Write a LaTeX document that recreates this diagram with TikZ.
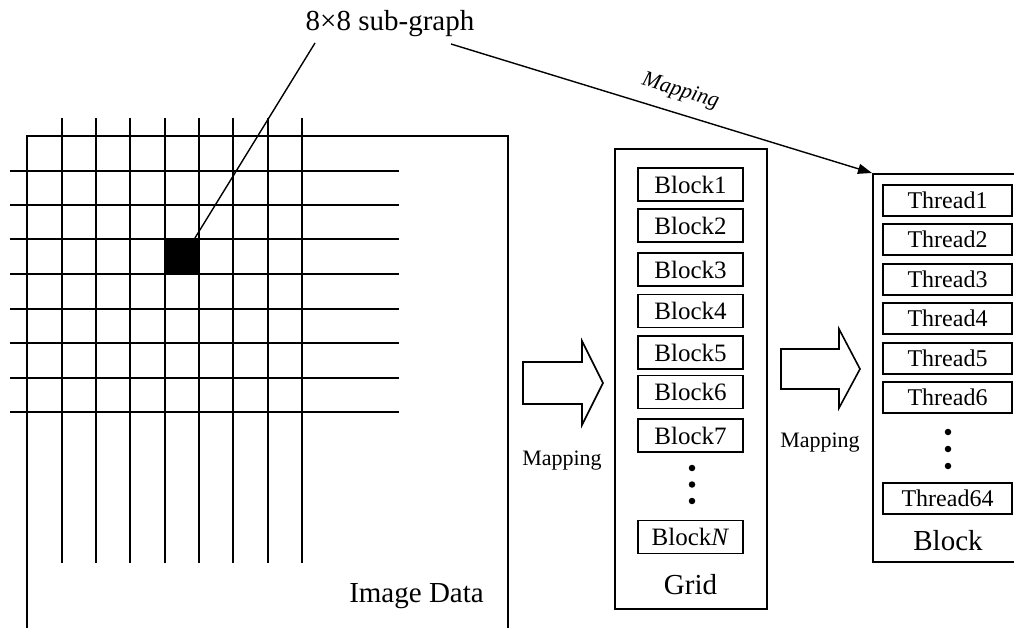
\documentclass[tikz,border=0pt]{standalone}
\usepackage{fontspec}
\setmainfont{Liberation Serif}
\usetikzlibrary{arrows.meta}
\begin{document}
\begin{tikzpicture}[x=1pt,y=-1pt, line width=1.8pt,
  cell/.style={draw, line width=1.6pt, minimum width=105pt, minimum height=33pt, inner sep=0pt,
    font=\fontsize{25}{28}\selectfont},
  tcell/.style={draw, line width=1.6pt, minimum width=129pt, minimum height=31pt, inner sep=0pt,
    font=\fontsize{24}{27}\selectfont},
  biglabel/.style={font=\fontsize{29}{32}\selectfont, anchor=base, inner sep=0pt},
  maplabel/.style={font=\fontsize{22}{25}\selectfont, anchor=base, inner sep=0pt},
  fatarrow/.style={draw, fill=white, line width=1.6pt, line join=miter},
  dot/.style={circle, fill, inner sep=0pt, minimum size=6.5pt}
]
\useasboundingbox (0,0) rectangle (1014,628);
\clip (0,0) rectangle (1014,628);

% image frame (open at the bottom)
\draw (27,640) -- (27,136) -- (508,136) -- (508,640);

% pixel grid
\foreach \x in {62,96,130,165,199,233,268,302}
  \draw (\x,118) -- (\x,563);
\foreach \y in {171,205,239,274,309,343,378,412}
  \draw (10,\y) -- (399,\y);

% highlighted 8x8 sub-graph
\node[fill, minimum width=34pt, minimum height=35pt, inner sep=0pt] (sub) at (182,256.5) {};
\node[biglabel] (sublbl) at (390,31) {8×8 sub-graph};
\coordinate (lead) at (315,43);
\draw[line width=1.4pt] (lead) -- ([xshift=-5pt]sub.north east);

\node[biglabel] (imglbl) at (416.5,602) {Image Data};

% grid of blocks
\node[draw, line width=1.6pt, minimum width=152pt, minimum height=460pt, inner sep=0pt] (grid) at (691,379) {};
\node[cell] (b1) at (690.5,184.5) {Block1};
\node[cell] (b2) at (690.5,225.5) {Block2};
\node[cell] (b3) at (690.5,269.5) {Block3};
\node[cell] (b4) at (690.5,311) {Block4};
\node[cell] (b5) at (690.5,352.5) {Block5};
\node[cell] (b6) at (690.5,392) {Block6};
\node[cell] (b7) at (690.5,435.5) {Block7};
\node[dot] (gd1) at (692,468) {};
\node[dot] (gd2) at (692,484.5) {};
\node[dot] (gd3) at (692,501) {};
\node[cell] (bn) at (690.5,537) {Block\textit{N}};
\node[biglabel] (gridlbl) at (690.5,594) {Grid};

% block of threads
\node[draw, line width=1.6pt, minimum width=170pt, minimum height=388pt, inner sep=0pt, anchor=north west] (blk) at (872,173) {};
\node[tcell] (t1) at (947.5,200.5) {Thread1};
\node[tcell] (t2) at (947.5,239.5) {Thread2};
\node[tcell] (t3) at (947.5,279.5) {Thread3};
\node[tcell] (t4) at (947.5,318.5) {Thread4};
\node[tcell] (t5) at (947.5,358.5) {Thread5};
\node[tcell] (t6) at (947.5,397.5) {Thread6};
\node[dot] (td1) at (948,432) {};
\node[dot] (td2) at (948,449) {};
\node[dot] (td3) at (948,466) {};
\node[tcell] (t64) at (947.5,498.5) {Thread64};
\node[biglabel] (blklbl) at (948,550) {Block};

% hollow mapping arrows
\draw[fatarrow] (523,362) -- (582,362) -- (582,341) -- (603,383) -- (582,425) -- (582,404) -- (523,404) -- cycle;
\node[maplabel] (map1) at (562,465) {Mapping};
\draw[fatarrow] (781,349) -- (839,349) -- (839,329) -- (860,369) -- (839,408) -- (839,389) -- (781,389) -- cycle;
\node[maplabel] (map2) at (820,447) {Mapping};

% sub-graph to block mapping
\coordinate (mapstart) at (451,44);
\draw[line width=1.4pt, -{Triangle[length=14pt,width=10pt]}] (mapstart) --
  node[sloped, above=8pt, pos=0.53, font=\fontsize{22}{25}\selectfont\itshape] (map3) {Mapping}
  (blk.north west);
\end{tikzpicture}
\end{document}
